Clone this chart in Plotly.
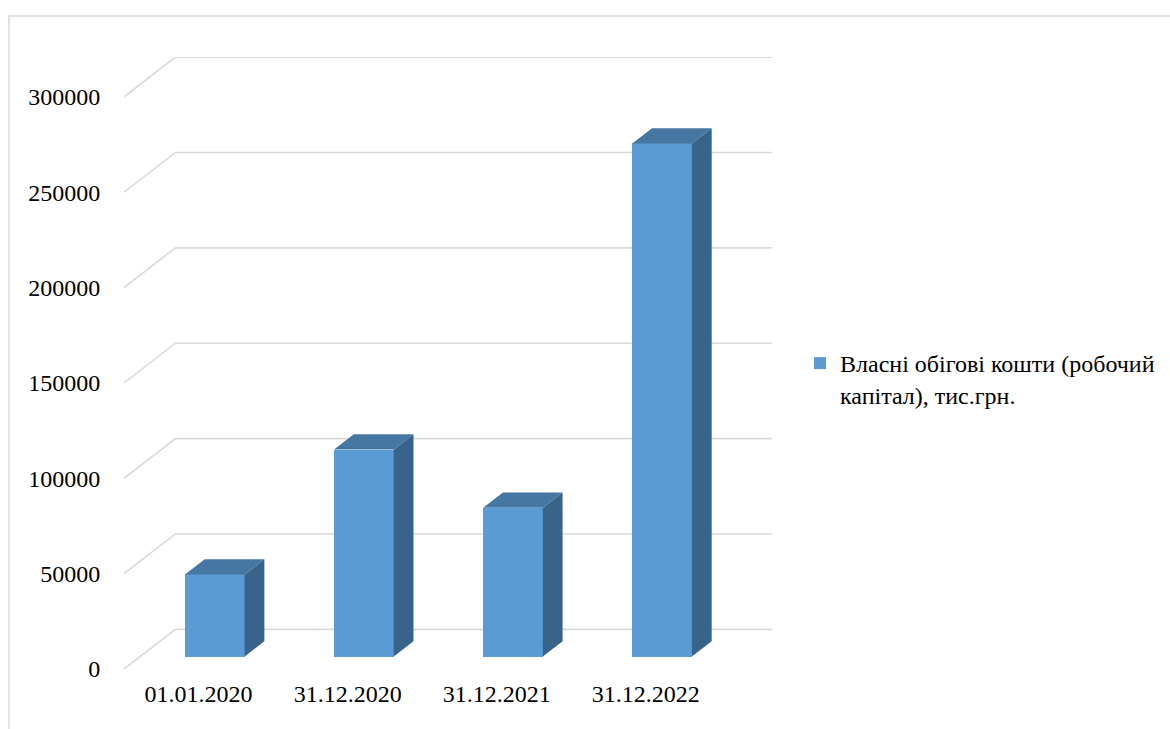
import plotly.graph_objects as go

# ---- data ----
categories = ["01.01.2020", "31.12.2020", "31.12.2021", "31.12.2022"]
values = [43000, 108500, 78000, 269000]
series_name = "Власні обігові кошти (робочий<br>капітал), тис.грн."
y_ticks = [0, 50000, 100000, 150000, 200000, 250000, 300000]

# ---- 3D projection style (category units / value units) ----
DX = 0.345      # depth offset in category units
DY = 20800      # depth offset in value units
F0 = 0.315      # bar front at this fraction of depth
F1 = 0.70       # bar back at this fraction of depth
BAR_W = 0.4

FRONT = "#5B9BD5"
TOP = "#4677A3"
SIDE = "#38648B"
GRID = "#D9D9D9"
FONT = "Liberation Serif, Times New Roman, DejaVu Serif, serif"

fig = go.Figure()

# gridlines: front diagonal + back wall horizontal (drawn below traces)
x_left = -0.5
x_right = len(categories) - 0.5
shapes = []
for v in y_ticks:
    shapes.append(dict(
        type="path", xref="x", yref="y", layer="below",
        path=f"M{x_left},{v} L{x_left + DX},{v + DY} L{x_right + DX},{v + DY}",
        line=dict(color=GRID, width=1.6)))

ddx = (F1 - F0) * DX
ddy = (F1 - F0) * DY
for i, v in enumerate(values):
    xl = i - BAR_W / 2 + F0 * DX
    xr = i + BAR_W / 2 + F0 * DX
    base = F0 * DY
    top = base + v
    # side face
    fig.add_trace(go.Scatter(
        x=[xr, xr, xr + ddx, xr + ddx, xr],
        y=[base, top, top + ddy, base + ddy, base],
        mode="lines", fill="toself", fillcolor=SIDE, line=dict(width=0, color=SIDE),
        showlegend=False, hoverinfo="skip"))
    # top face
    fig.add_trace(go.Scatter(
        x=[xl, xr, xr + ddx, xl + ddx, xl],
        y=[top, top, top + ddy, top + ddy, top],
        mode="lines", fill="toself", fillcolor=TOP, line=dict(width=0, color=TOP),
        showlegend=False, hoverinfo="skip"))

# front faces as a real bar trace
fig.add_trace(go.Bar(
    x=[i + F0 * DX for i in range(len(categories))],
    y=values,
    base=[F0 * DY] * len(values),
    width=BAR_W,
    marker=dict(color=FRONT, line=dict(width=0)),
    name=series_name,
    showlegend=True))

PX_CAT = 149.1
PX_VAL = 95.37 / 50000
ML, MR, MT, MB = 124, 397, 57, 60
plot_w = 1170 - ML - MR
plot_h = 729 - MT - MB

shapes.append(dict(
    type="rect", xref="paper", yref="paper",
    x0=(9 - ML) / plot_w, x1=(1180 - ML) / plot_w,
    y0=(669 - 740) / plot_h, y1=(669 - 16) / plot_h,
    line=dict(color=GRID, width=1.5), fillcolor="rgba(0,0,0,0)", layer="below"))

fig.update_layout(
    width=1170, height=729,
    margin=dict(l=ML, r=MR, t=MT, b=MB, pad=0, autoexpand=False),
    paper_bgcolor="white", plot_bgcolor="white",
    font=dict(family=FONT, size=24, color="#000000"),
    bargap=0,
    xaxis=dict(
        range=[-0.5, -0.5 + plot_w / PX_CAT],
        tickmode="array", tickvals=list(range(len(categories))), ticktext=categories,
        showgrid=False, zeroline=False, showline=False, automargin=False,
        ticks="outside", ticklen=3, tickcolor="rgba(0,0,0,0)",
        tickfont=dict(family=FONT, size=24, color="#000000"),
    ),
    yaxis=dict(
        range=[0, plot_h / PX_VAL],
        tickmode="array", tickvals=y_ticks, ticktext=[str(v) for v in y_ticks],
        showgrid=False, zeroline=False, showline=False, automargin=False,
        ticks="outside", ticklen=18, tickcolor="rgba(0,0,0,0)",
        tickfont=dict(family=FONT, size=24, color="#000000"),
    ),
    legend=dict(
        x=(800 - ML) / plot_w, y=(669 - 341) / plot_h,
        xanchor="left", yanchor="top", valign="top",
        font=dict(family=FONT, size=24, color="#000000"),
        bgcolor="rgba(0,0,0,0)",
    ),
    shapes=shapes,
)

fig.write_html("out.html")
